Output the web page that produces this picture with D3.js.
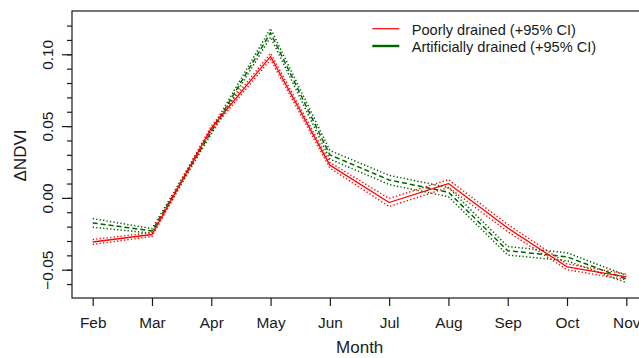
<!DOCTYPE html>
<html>
<head>
<meta charset="utf-8">
<script src="https://cdn.jsdelivr.net/npm/d3@7"></script>
<style>
  html, body { margin: 0; padding: 0; background: #fff; }
  svg { display: block; font-family: "Liberation Sans", Arial, sans-serif; }
</style>
</head>
<body>
<svg id="chart" width="639" height="358"></svg>
<script>
// ---- data ----
const months = ["Feb", "Mar", "Apr", "May", "Jun", "Jul", "Aug", "Sep", "Oct", "Nov"];
const monthNums = [2, 3, 4, 5, 6, 7, 8, 9, 10, 11];

const poorlyMean  = [-0.0307, -0.0255, 0.0485, 0.0985, 0.0228, -0.0032, 0.0100, -0.0210, -0.0480, -0.0550];
const poorlyLower = [-0.0324, -0.0269, 0.0470, 0.0963, 0.0208, -0.0060, 0.0073, -0.0235, -0.0500, -0.0570];
const poorlyUpper = [-0.0290, -0.0241, 0.0500, 0.1007, 0.0248, -0.0004, 0.0127, -0.0185, -0.0460, -0.0530];

const artMean  = [-0.0174, -0.0230, 0.0460, 0.1150, 0.0300, 0.0125, 0.0040, -0.0368, -0.0410, -0.0565];
const artLower = [-0.0204, -0.0246, 0.0444, 0.1120, 0.0270, 0.0093, 0.0008, -0.0398, -0.0438, -0.0590];
const artUpper = [-0.0144, -0.0214, 0.0476, 0.1180, 0.0330, 0.0157, 0.0072, -0.0338, -0.0382, -0.0540];

const yMajorTicks = [-0.05, 0.00, 0.05, 0.10];
const yMinorTicks = [-0.06, -0.05, -0.04, -0.03, -0.02, -0.01, 0.00, 0.01, 0.02, 0.03, 0.04, 0.05, 0.06, 0.07, 0.08, 0.09, 0.10, 0.11, 0.12];

const legendLabels = ["Poorly drained (+95% CI)", "Artificially drained (+95% CI)"];
const xTitle = "Month";
const yTitle = "\u0394NDVI";

// ---- layout ----
const svg = d3.select("#chart");
const box = { left: 72, top: 11, right: 648, bottom: 298 };
const RED = "#ff0000";
const GREEN = "#006400";
const INK = "#1a1a1a";

const x = d3.scaleLinear().domain([2, 11]).range([92.7, 626.3]);
const y = d3.scaleLinear().domain([-0.05, 0.10]).range([269.7, 54.3]);

// box
svg.append("rect")
  .attr("x", box.left).attr("y", box.top)
  .attr("width", box.right - box.left).attr("height", box.bottom - box.top)
  .attr("fill", "none").attr("stroke", INK).attr("stroke-width", 1.2);

// x axis
const xAxis = svg.append("g")
  .attr("transform", `translate(0,${box.bottom})`)
  .call(d3.axisBottom(x).tickValues(monthNums).tickSize(8).tickFormat((d, i) => months[i]));
xAxis.select(".domain").remove();
xAxis.selectAll(".tick line").attr("stroke", INK).attr("stroke-width", 1.2);
xAxis.selectAll(".tick text")
  .attr("y", 30).attr("dy", null)
  .attr("fill", INK)
  .style("font-size", "15.4px")
  .style("font-family", "Liberation Sans, Arial, sans-serif");

// y axis minor
const yMinor = svg.append("g")
  .attr("transform", `translate(${box.left},0)`)
  .call(d3.axisLeft(y).tickValues(yMinorTicks).tickSize(5).tickFormat(""));
yMinor.select(".domain").remove();
yMinor.selectAll(".tick line").attr("stroke", INK).attr("stroke-width", 1.2);

// y axis major
const yMajor = svg.append("g")
  .attr("transform", `translate(${box.left},0)`)
  .call(d3.axisLeft(y).tickValues(yMajorTicks).tickSize(10).tickFormat(d3.format(".2f")));
yMajor.select(".domain").remove();
yMajor.selectAll(".tick line").attr("stroke", INK).attr("stroke-width", 1.2);
yMajor.selectAll(".tick text")
  .attr("x", null).attr("dy", null)
  .attr("text-anchor", "middle")
  .attr("transform", "translate(-19,0) rotate(-90)")
  .attr("fill", INK)
  .style("font-size", "15.4px")
  .style("font-family", "Liberation Sans, Arial, sans-serif");

// axis titles
svg.append("text")
  .attr("x", 359.7).attr("y", 353)
  .attr("text-anchor", "middle")
  .attr("fill", INK)
  .style("font-size", "17px")
  .text(xTitle);

svg.append("text")
  .attr("transform", "translate(26,155.5) rotate(-90)")
  .attr("text-anchor", "middle")
  .attr("fill", INK)
  .style("font-size", "17px")
  .text(yTitle);

// lines
const line = d3.line().x((d) => x(d[0])).y((d) => y(d[1]));
const pts = (arr) => monthNums.map((m, i) => [m, arr[i]]);

const series = [
  { data: artLower, color: GREEN, width: 1.5, dash: "1.3,2.2" },
  { data: artUpper, color: GREEN, width: 1.5, dash: "1.3,2.2" },
  { data: artMean, color: GREEN, width: 1.5, dash: "5,3" },
  { data: poorlyLower, color: RED, width: 1.4, dash: "1.3,2.2" },
  { data: poorlyUpper, color: RED, width: 1.4, dash: "1.3,2.2" },
  { data: poorlyMean, color: RED, width: 1.3, dash: null },
];

svg.append("g").selectAll("path")
  .data(series)
  .join("path")
  .attr("d", (s) => line(pts(s.data)))
  .attr("fill", "none")
  .attr("stroke", (s) => s.color)
  .attr("stroke-width", (s) => s.width)
  .attr("stroke-dasharray", (s) => s.dash)
  .attr("stroke-linejoin", "round");

// legend
const legend = svg.append("g");
const legendItems = [
  { label: legendLabels[0], color: RED, width: 1.2, ly: 28.7, ty: 35 },
  { label: legendLabels[1], color: GREEN, width: 2.4, ly: 46, ty: 52 },
];
legendItems.forEach((it) => {
  legend.append("line")
    .attr("x1", 372.3).attr("x2", 399.3)
    .attr("y1", it.ly).attr("y2", it.ly)
    .attr("stroke", it.color).attr("stroke-width", it.width);
  legend.append("text")
    .attr("x", 411.7).attr("y", it.ty)
    .attr("fill", INK)
    .style("font-size", "14.6px")
    .text(it.label);
});
</script>
</body>
</html>
